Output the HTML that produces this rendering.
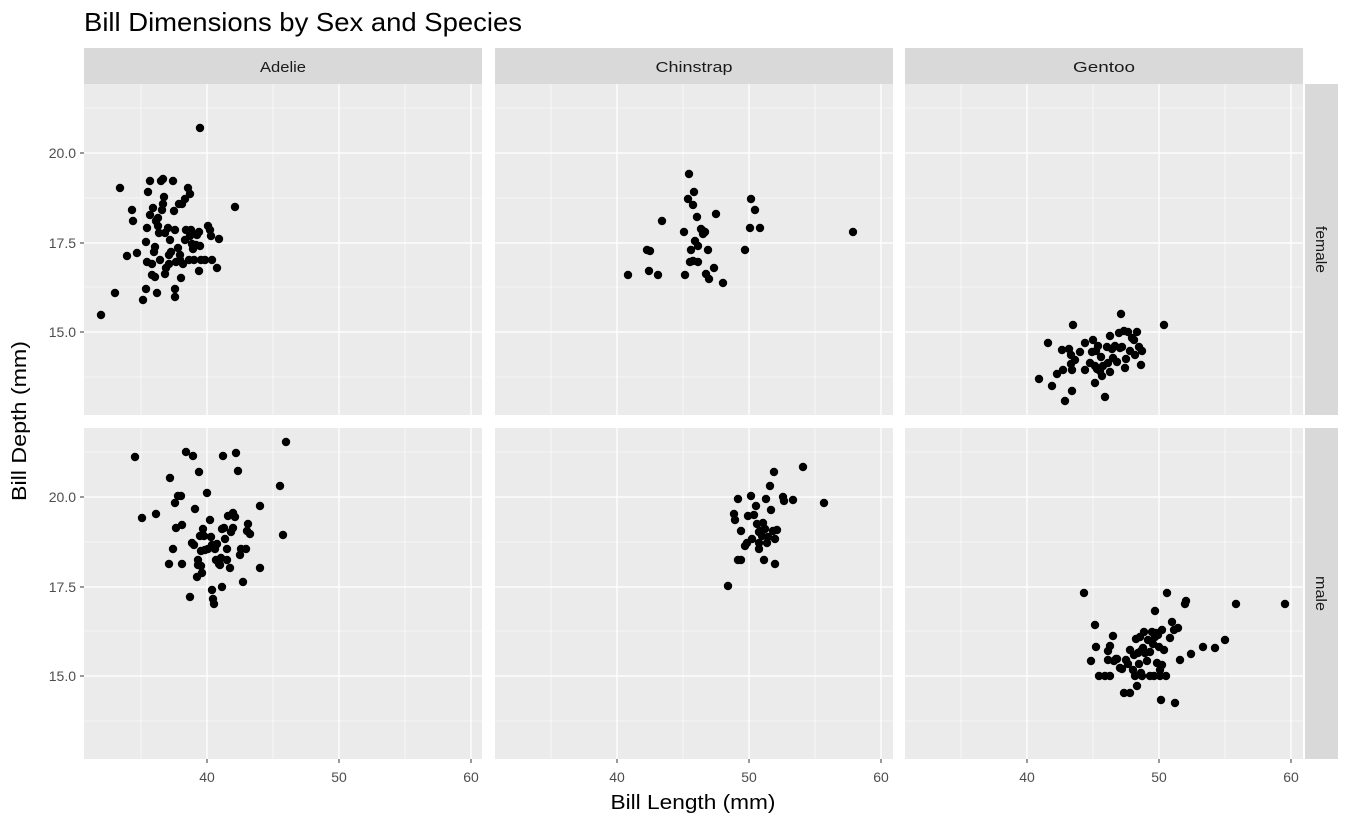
<!DOCTYPE html>
<html><head><meta charset="utf-8"><style>body{margin:0;background:#fff}svg{display:block}text{font-family:"Liberation Sans",sans-serif}</style></head><body>
<svg id="s" width="1350" height="825" xmlns="http://www.w3.org/2000/svg"></svg>
<script>
const s=document.getElementById('s');let h='';
const px=[[84,482],[495,893],[905,1303]],py=[[84,415],[428,759]];
const off=[0,410,820];
for(let r=0;r<2;r++)for(let c=0;c<3;c++){
 const [x0,x1]=px[c],[y0,y1]=py[r];
 h+=`<rect x="${x0}" y="${y0}" width="${x1-x0}" height="${y1-y0}" fill="#ebebeb"/>`;
 for(const v of [35,45,55]){const x=141+(v-35)*13.2+off[c];h+=`<line x1="${x}" x2="${x}" y1="${y0}" y2="${y1}" stroke="#fff" stroke-width="0.6"/>`;}
 for(const yy of [108,198,287,377]){const y=yy+r*344;h+=`<line x1="${x0}" x2="${x1}" y1="${y}" y2="${y}" stroke="#fff" stroke-width="0.6"/>`;}
 for(const v of [40,50,60]){const x=207+(v-40)*13.2+off[c];h+=`<line x1="${x}" x2="${x}" y1="${y0}" y2="${y1}" stroke="#fff" stroke-width="1.3"/>`;}
 for(const yy of [153,243,332]){const y=yy+r*344;h+=`<line x1="${x0}" x2="${x1}" y1="${y}" y2="${y}" stroke="#fff" stroke-width="1.3"/>`;}
}
const names=['Adelie','Chinstrap','Gentoo'],nl=[46,77,62];
for(let c=0;c<3;c++){const [x0,x1]=px[c];h+=`<rect x="${x0}" y="48" width="${x1-x0}" height="36" fill="#d9d9d9"/><text x="${(x0+x1)/2}" y="72" font-size="15" fill="#1a1a1a" text-anchor="middle" textLength="${nl[c]}" lengthAdjust="spacingAndGlyphs">${names[c]}</text>`;
 for(const v of [40,50,60]){const x=207+(v-40)*13.2+off[c];h+=`<line x1="${x}" x2="${x}" y1="759" y2="763" stroke="#333"/><text x="${x}" y="782" font-size="14" fill="#4d4d4d" text-anchor="middle">${v}</text>`;}}
const sx=['female','male'],sl=[47,35];
for(let r=0;r<2;r++){const [y0,y1]=py[r];h+=`<rect x="1305" y="${y0}" width="33" height="${y1-y0}" fill="#d9d9d9"/><text transform="translate(1316,${(y0+y1)/2}) rotate(90)" font-size="15" fill="#1a1a1a" text-anchor="middle" textLength="${sl[r]}" lengthAdjust="spacingAndGlyphs">${sx[r]}</text>`;
 [['20.0',153],['17.5',243],['15.0',332]].forEach(([t,yy])=>{const y=yy+r*344;h+=`<line x1="80" x2="84" y1="${y}" y2="${y}" stroke="#333"/><text x="76" y="${y+5}" font-size="14" fill="#4d4d4d" text-anchor="end">${t}</text>`;});}
h+=`<text x="84" y="31" font-size="26" fill="#000" textLength="438" lengthAdjust="spacingAndGlyphs">Bill Dimensions by Sex and Species</text>`;
h+=`<text x="693" y="809" font-size="20" fill="#000" text-anchor="middle" textLength="165" lengthAdjust="spacingAndGlyphs">Bill Length (mm)</text>`;
h+=`<text transform="translate(26,421) rotate(-90)" font-size="20" fill="#000" text-anchor="middle" textLength="160" lengthAdjust="spacingAndGlyphs">Bill Depth (mm)</text>`;
const P=[[101,315],[115,293],[120,188],[132,210],[133,221],[137,253],[127,256],[143,300],[146,289],[147,262],[146,242],[147,228],[148,192],[150,181],[153,208],[152,264],[152,275],[154,252],[155,247],[156,221],[155,277],[157,293],[158,226],[158,218],[159,233],[161,181],[162,210],[163,179],[163,204],[164,197],[165,233],[165,274],[166,268],[168,228],[169,255],[169,264],[171,252],[173,181],[174,211],[175,289],[175,297],[176,262],[178,248],[179,204],[180,260],[181,278],[182,204],[183,264],[185,199],[186,230],[188,188],[189,260],[190,194],[190,236],[191,230],[192,244],[193,249],[194,260],[196,245],[197,235],[199,271],[199,232],[200,128],[200,246],[201,260],[205,260],[208,226],[210,230],[211,236],[212,260],[217,268],[219,239],[235,207],[180,255],[185,240],[160,260],[170,240],[150,215],[175,230],
[628,275],[647,250],[649,271],[650,251],[658,275],[662,221],[684,232],[685,275],[688,199],[689,174],[690,262],[691,250],[693,205],[694,192],[693,261],[695,241],[697,217],[698,246],[701,229],[703,234],[705,232],[702,230],[706,274],[708,250],[709,279],[714,268],[716,214],[723,283],[745,250],[750,228],[751,199],[755,210],[760,228],[853,232],[698,262],
[1039,379],[1048,343],[1052,386],[1057,374],[1062,350],[1063,370],[1065,401],[1069,349],[1071,355],[1072,391],[1073,325],[1071,364],[1072,370],[1075,360],[1085,343],[1090,363],[1092,352],[1093,340],[1095,383],[1096,351],[1097,369],[1098,346],[1100,371],[1101,357],[1102,376],[1105,397],[1107,347],[1108,363],[1110,336],[1112,349],[1113,358],[1115,346],[1117,362],[1119,333],[1121,314],[1122,347],[1124,331],[1125,368],[1126,359],[1128,332],[1130,351],[1132,338],[1134,340],[1135,355],[1137,332],[1139,347],[1141,365],[1142,351],[1164,325],[1085,370],[1095,366],[1103,366],[1110,372],[1080,352],[1120,348],
[135,457],[142,518],[156,514],[170,478],[169,564],[173,549],[175,503],[176,528],[178,496],[181,496],[182,564],[182,525],[186,452],[190,597],[192,543],[193,456],[194,545],[195,509],[197,577],[198,565],[198,560],[199,472],[200,536],[201,566],[201,551],[202,573],[203,529],[204,536],[205,550],[207,493],[208,549],[211,537],[212,545],[212,590],[213,599],[214,604],[215,549],[216,560],[217,544],[219,564],[220,565],[221,558],[222,529],[222,587],[223,456],[224,528],[225,539],[227,549],[228,516],[230,568],[231,532],[233,513],[233,528],[235,517],[236,453],[238,471],[240,555],[241,549],[243,582],[246,549],[247,531],[248,524],[250,534],[260,506],[260,568],[280,486],[283,535],[286,442],[227,560],[210,520],
[728,586],[734,514],[735,520],[738,499],[738,560],[741,531],[741,560],[745,546],[748,516],[751,496],[752,539],[754,515],[756,506],[757,524],[759,549],[759,543],[760,531],[762,536],[763,523],[765,529],[764,560],[766,499],[767,543],[768,537],[770,486],[771,510],[773,531],[774,472],[775,564],[775,539],[777,530],[783,497],[784,501],[793,500],[803,467],[824,503],[759,532],[747,543],
[1084,593],[1091,661],[1095,625],[1096,647],[1099,676],[1105,676],[1108,660],[1108,651],[1110,646],[1110,676],[1113,636],[1114,661],[1116,659],[1117,659],[1120,668],[1122,669],[1124,693],[1126,660],[1128,664],[1130,693],[1133,670],[1134,655],[1135,676],[1136,639],[1137,686],[1138,653],[1139,664],[1140,637],[1141,651],[1141,673],[1142,676],[1143,648],[1144,632],[1145,653],[1147,661],[1148,640],[1150,676],[1150,652],[1152,632],[1153,644],[1154,676],[1155,611],[1155,637],[1156,633],[1157,663],[1158,635],[1159,647],[1160,670],[1160,676],[1161,700],[1162,630],[1162,665],[1164,650],[1166,676],[1167,593],[1170,638],[1172,622],[1174,630],[1175,703],[1178,628],[1185,604],[1186,601],[1191,654],[1203,647],[1215,648],[1225,640],[1236,604],[1285,604],[1180,660],[1130,650]];
for(const [x,y] of P)h+=`<circle cx="${x}" cy="${y}" r="4.2" fill="#000"/>`;
s.innerHTML=h;
</script></body></html>
